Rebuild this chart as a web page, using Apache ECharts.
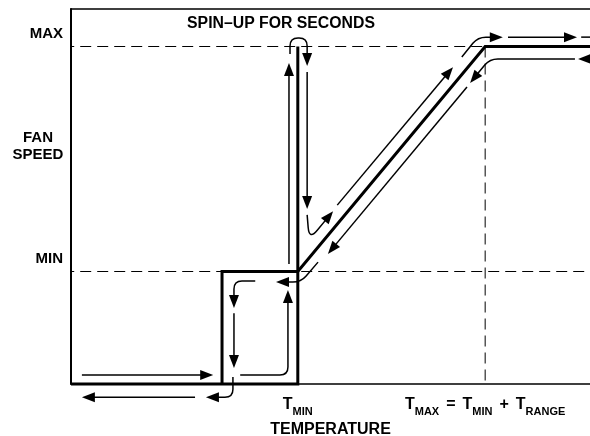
<!DOCTYPE html>
<html>
<head>
<meta charset="utf-8">
<script src="https://cdn.jsdelivr.net/npm/echarts@6/dist/echarts.min.js"></script>
<style>
  html, body { margin: 0; padding: 0; background: #fff; }
  #chart { width: 590px; height: 436px; }
</style>
</head>
<body>
<div id="chart"></div>
<script>
// ---------- data (temperature 0..100 on x, fan speed % on y) ----------
const xTickValues = [43.7, 79.8];
// pairs of [style, text]: t = main, s = subscript, o = operator
const xTickLabels = [
  [['t', 'T'], ['s', 'MIN']],
  [['t', 'T'], ['s', 'MAX'], ['o', '='], ['t', 'T'], ['s', 'MIN'], ['o', '+'], ['t', 'T'], ['s', 'RANGE']]
];
const yTickValues = [30, 90];
const yTickLabels = ['MIN', 'MAX'];

// thick fan-speed trace
const traceRise = [[0, 0], [43.7, 0], [43.7, 90]];
const traceSettle = [[29.1, 0], [29.1, 30], [43.7, 30], [79.8, 90], [100, 90]];

// dashed reference lines
const dashMax = [[-1.5, 90], [79.8, 90]];
const dashMin = [[-1.5, 30], [100, 30]];
const dashTmax = [[79.8, 90], [79.8, 0]];

// thin direction arrows (points in data units)
const arrowColdRight = [[2.1, 2.4], [27.4, 2.4]];
const arrowColdLeft = [[23.9, -3.5], [2.1, -3.5]];
const arrowPulseExit = [[31.2, 1.9], [31.2, -3.5], [26.0, -3.5]];
const arrowPulseTopLeft = [[35.5, 27.5], [31.4, 27.5], [31.4, 20.3]];
const arrowPulseDown = [[31.4, 18.9], [31.4, 4.3]];
const arrowPulseUp = [[32.6, 2.4], [41.8, 2.4], [41.8, 25.1]];
const arrowReturnMin = [[47.6, 32.5], [44.3, 27.2], [39.5, 27.2]];
const arrowSpinUp = [[42.0, 32.0], [42.0, 85.6]];
const arrowSpinLoop = [[42.2, 88.0], [42.2, 92.3], [45.5, 92.3], [45.5, 84.8]];
const arrowSpinDown = [[45.5, 83.2], [45.5, 46.7]];
const arrowSpinDip = [[45.5, 45.1], [45.9, 38.4], [50.5, 46.1]];
const arrowRampUp = [[51.3, 47.7], [73.6, 84.5]];
const arrowRampTop = [[75.3, 87.2], [78.4, 92.5], [83.2, 92.5]];
const arrowMaxRight = [[84.2, 92.5], [97.5, 92.5]];
const arrowMaxTail = [[98.3, 92.5], [100, 92.5]];
const arrowMaxReturn = [[100, 86.7], [97.7, 86.7]];
const arrowRampTopDown = [[97.1, 86.7], [80.7, 86.7], [76.9, 80.3]];
const arrowRampDown = [[76.3, 79.2], [49.5, 34.7]];

const arrows = [
  { pts: arrowColdRight, head: true },
  { pts: arrowColdLeft, head: true },
  { pts: arrowPulseExit, head: true },
  { pts: arrowPulseTopLeft, head: true },
  { pts: arrowPulseDown, head: true },
  { pts: arrowPulseUp, head: true },
  { pts: arrowReturnMin, head: true },
  { pts: arrowSpinUp, head: true },
  { pts: arrowSpinLoop, head: true },
  { pts: arrowSpinDown, head: true },
  { pts: arrowSpinDip, head: true, r: 14 },
  { pts: arrowRampUp, head: true },
  { pts: arrowRampTop, head: true },
  { pts: arrowMaxRight, head: true },
  { pts: arrowMaxTail, head: false },
  { pts: arrowMaxReturn, head: true },
  { pts: arrowRampTopDown, head: true },
  { pts: arrowRampDown, head: true }
];

// ---------- rendering ----------
const FONT = '"Liberation Sans", Arial, Helvetica, sans-serif';
const HEAD_L = 13, HEAD_W = 5, CORNER_R = 8;

function renderArrow(params, api) {
  const a = arrows[params.dataIndex];
  const p = a.pts.map(v => api.coord(v));
  const n = p.length;
  const last = p[n - 1], prev = p[n - 2];
  const dx = last[0] - prev[0], dy = last[1] - prev[1];
  const len = Math.hypot(dx, dy);
  const ux = dx / len, uy = dy / len;
  const end = a.head ? [last[0] - ux * HEAD_L * 0.6, last[1] - uy * HEAD_L * 0.6] : last;
  const radius = a.r || CORNER_R;
  let d = 'M' + p[0][0] + ' ' + p[0][1];
  for (let i = 1; i < n - 1; i++) {
    const A = p[i - 1], V = p[i], B = p[i + 1];
    const l1 = Math.hypot(V[0] - A[0], V[1] - A[1]);
    const l2 = Math.hypot(B[0] - V[0], B[1] - V[1]);
    const r = Math.min(radius, l1 / 2, l2 / 2);
    const P1 = [V[0] - (V[0] - A[0]) / l1 * r, V[1] - (V[1] - A[1]) / l1 * r];
    const P2 = [V[0] + (B[0] - V[0]) / l2 * r, V[1] + (B[1] - V[1]) / l2 * r];
    d += ' L' + P1[0] + ' ' + P1[1] + ' Q' + V[0] + ' ' + V[1] + ' ' + P2[0] + ' ' + P2[1];
  }
  d += ' L' + end[0] + ' ' + end[1];
  const children = [{
    type: 'path',
    shape: { pathData: d },
    style: { stroke: '#000', lineWidth: 1.5, fill: 'none' }
  }];
  if (a.head) {
    const bx = last[0] - ux * HEAD_L, by = last[1] - uy * HEAD_L;
    children.push({
      type: 'polygon',
      shape: { points: [last, [bx - uy * HEAD_W, by + ux * HEAD_W], [bx + uy * HEAD_W, by - ux * HEAD_W]] },
      style: { fill: '#000', stroke: null }
    });
  }
  return { type: 'group', children };
}

function xLabel(value) {
  const i = xTickValues.findIndex(v => Math.abs(v - value) < 1e-6);
  if (i < 0) return '';
  return xTickLabels[i].map(([k, t]) => '{' + k + '|' + t + '}').join('');
}
function yLabel(value) {
  const i = yTickValues.findIndex(v => Math.abs(v - value) < 1e-6);
  return i < 0 ? '' : yTickLabels[i];
}

const chart = echarts.init(document.getElementById('chart'), null, { renderer: 'canvas' });

const dashStyle = { color: '#000', width: 1, type: [11, 6] };
const thickStyle = { color: '#000', width: 3, join: 'miter', cap: 'butt' };

chart.setOption({
  animation: false,
  backgroundColor: '#fff',
  grid: { left: 71, right: 0, top: 9, bottom: 52, containLabel: false, outerBoundsMode: 'none' },
  xAxis: [{
    type: 'value', min: 0, max: 100, position: 'bottom',
    axisLine: { show: true, onZero: false, lineStyle: { color: '#000', width: 1.5 } },
    axisTick: { show: false },
    splitLine: { show: false },
    axisLabel: {
      customValues: xTickValues,
      formatter: xLabel,
      margin: 13,
      color: '#000',
      rich: {
        t: { fontSize: 16, fontWeight: 'bold', fontFamily: FONT, color: '#000', lineHeight: 17, verticalAlign: 'top' },
        o: { fontSize: 16, fontWeight: 'bold', fontFamily: FONT, color: '#000', lineHeight: 17, verticalAlign: 'top', padding: [0, 7, 0, 7] },
        s: { fontSize: 11, fontWeight: 'bold', fontFamily: FONT, color: '#000', lineHeight: 11, padding: [9, 0, 0, 0], verticalAlign: 'top' }
      }
    },
    name: 'TEMPERATURE',
    nameLocation: 'middle',
    nameGap: 38,
    nameTextStyle: { fontSize: 16, fontWeight: 'bold', fontFamily: FONT, color: '#000' }
  }, {
    type: 'value', min: 0, max: 100, position: 'top',
    axisLine: { show: true, onZero: false, lineStyle: { color: '#000', width: 1.5 } },
    axisTick: { show: false }, axisLabel: { show: false }, splitLine: { show: false }
  }],
  yAxis: {
    type: 'value', min: 0, max: 100,
    axisLine: { show: true, onZero: false, lineStyle: { color: '#000', width: 2 } },
    axisTick: { show: false },
    splitLine: { show: false },
    axisLabel: {
      customValues: yTickValues,
      formatter: yLabel,
      margin: 8,
      verticalAlign: 'bottom',
      padding: [0, 0, 5, 0],
      fontSize: 15, fontWeight: 'bold', fontFamily: FONT, color: '#000'
    }
  },
  graphic: [
    {
      type: 'text', x: 38, y: 146, silent: true,
      style: { text: 'FAN\nSPEED', align: 'center', verticalAlign: 'middle', lineHeight: 17,
               fontSize: 15, fontWeight: 'bold', fontFamily: FONT, fill: '#000' }
    },
    {
      type: 'text', x: 281, y: 24, silent: true,
      style: { text: 'SPIN\u2013UP FOR SECONDS', align: 'center', verticalAlign: 'middle',
               fontSize: 15.8, fontWeight: 'bold', fontFamily: FONT, fill: '#000' }
    }
  ],
  series: [
    { type: 'line', data: dashMax, symbol: 'none', clip: false, lineStyle: dashStyle, z: 1, silent: true },
    { type: 'line', data: dashMin, symbol: 'none', clip: false, lineStyle: dashStyle, z: 1, silent: true },
    { type: 'line', data: dashTmax, symbol: 'none', clip: false, lineStyle: dashStyle, z: 1, silent: true },
    { type: 'line', data: traceRise, symbol: 'none', clip: false, lineStyle: thickStyle, z: 3, silent: true },
    { type: 'line', data: traceSettle, symbol: 'none', clip: false, lineStyle: thickStyle, z: 3, silent: true },
    {
      type: 'custom', coordinateSystem: 'cartesian2d', clip: false, z: 4, silent: true,
      data: arrows.map(a => a.pts[0]),
      renderItem: renderArrow
    }
  ]
});
</script>
</body>
</html>
